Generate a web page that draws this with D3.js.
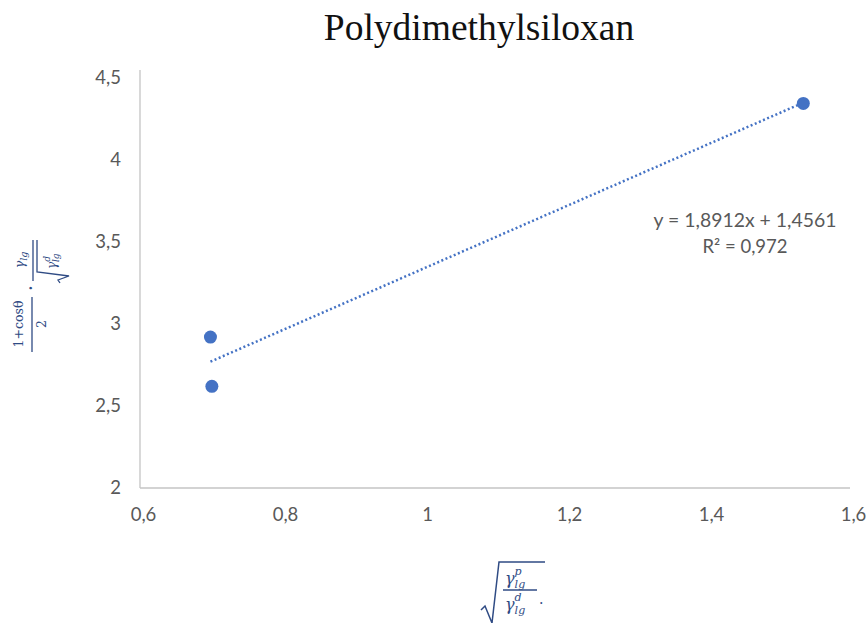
<!DOCTYPE html>
<meta charset="utf-8">
<html>
<head>
<script src="https://d3js.org/d3.v7.min.js"></script>
<style>
  body { margin: 0; background: #fff; }
</style>
</head>
<body>
<div id="chart"></div>
<script>

    // data
    var xValues = [0.695, 0.697, 1.530];
    var yValues = [2.92, 2.62, 4.345];
    var slope = 1.8912, intercept = 1.4561;
    var xTicks = [0.6, 0.8, 1, 1.2, 1.4, 1.6];
    var yTicks = [2, 2.5, 3, 3.5, 4, 4.5];
    var eqLines = ["y = 1,8912x + 1,4561", "R\u00b2 = 0,972"];

    var W = 866, H = 623;
    var margin = {top: 78, right: 13, bottom: 135, left: 143};
    var width = W - margin.left - margin.right,
        height = H - margin.top - margin.bottom;

    var svg = d3.select("#chart").append("svg")
        .attr("width", W).attr("height", H);

    var g = svg.append("g")
        .attr("transform", "translate(" + margin.left + "," + margin.top + ")");

    var x = d3.scaleLinear().domain([0.6, 1.6]).range([0, width]);
    var y = d3.scaleLinear().domain([2, 4.5]).range([height, 0]);

    var fmt = function(d) { return String(d).replace(".", ","); };

    // title
    svg.append("text")
        .attr("x", 479).attr("y", 40)
        .attr("text-anchor", "middle")
        .style("font-family", "Liberation Serif, Times New Roman, serif")
        .style("font-size", "37.5px")
        .style("fill", "#111")
        .text("Polydimethylsiloxan");

    // axes
    var xAxis = g.append("g")
        .attr("transform", "translate(0," + height + ")")
        .call(d3.axisBottom(x).tickValues(xTicks).tickFormat(fmt).tickSize(0).tickPadding(20));
    var yAxis = g.append("g")
        .call(d3.axisLeft(y).tickValues(yTicks).tickFormat(fmt).tickSize(0).tickPadding(22));

    [xAxis, yAxis].forEach(function(a) {
      a.select(".domain").attr("stroke", "#c4c4c4").attr("stroke-width", 1.3);
      a.selectAll("text")
        .style("font-family", "Lato, Open Sans, sans-serif")
        .style("font-size", "18.5px")
        .style("fill", "#595959");
    });
    xAxis.select(".domain").attr("d", "M-3,0H" + (width - 3));
    yAxis.select(".domain").attr("d", "M-3," + height + "V-8");

    // trendline
    var x0 = d3.min(xValues), x1 = d3.max(xValues);
    g.append("line")
        .attr("x1", x(x0)).attr("y1", y(slope * x0 + intercept))
        .attr("x2", x(x1)).attr("y2", y(slope * x1 + intercept))
        .attr("stroke", "#4472c4")
        .attr("stroke-width", 2.5)
        .attr("stroke-dasharray", "2,2.5");

    // points
    g.selectAll("circle")
        .data(xValues)
        .enter()
        .append("circle")
          .attr("cx", function(d) { return x(d); })
          .attr("cy", function(d, i) { return y(yValues[i]); })
          .attr("r", 6.5)
          .style("fill", "#4472c4");

    // equation
    svg.selectAll(".eq")
        .data(eqLines)
        .enter()
        .append("text")
          .attr("class", "eq")
          .attr("x", 745)
          .attr("y", function(d, i) { return 227 + i * 26; })
          .attr("text-anchor", "middle")
          .style("font-family", "Lato, Open Sans, sans-serif")
          .style("font-size", function(d, i) { return i === 0 ? "19.4px" : "18.5px"; })
          .style("fill", "#595959")
          .text(function(d) { return d; });

    var labelColor = "#2f4b84";
    var mathFont = "DejaVu Serif, Liberation Serif, serif";

    // y label (rotated formula)
    var yl = svg.append("g")
        .attr("transform", "translate(32,300) rotate(-90)")
        .style("font-family", mathFont)
        .style("fill", labelColor);
    yl.append("text").attr("x", -24).attr("y", -9).attr("text-anchor", "middle")
        .style("font-size", "12.5px").text("1+cos\u03b8");
    yl.append("line").attr("x1", -52).attr("x2", 3).attr("y1", 0).attr("y2", 0)
        .attr("stroke", labelColor).attr("stroke-width", 1.3);
    yl.append("text").attr("x", -24).attr("y", 14).attr("text-anchor", "middle")
        .style("font-size", "12.5px").text("2");
    yl.append("text").attr("x", 12).attr("y", 4).attr("text-anchor", "middle")
        .style("font-size", "14px").style("font-weight", "bold").text("\u00b7");
    var ynum = yl.append("text").attr("x", 40).attr("y", -8).attr("text-anchor", "middle")
        .style("font-size", "12.5px").style("font-style", "italic");
    ynum.append("tspan").text("\u03b3");
    ynum.append("tspan").attr("dy", 3).style("font-size", "9.5px").text("lg");
    yl.append("line").attr("x1", 19).attr("x2", 60).attr("y1", 1).attr("y2", 1)
        .attr("stroke", labelColor).attr("stroke-width", 1.3);
    yl.append("path").attr("d", "M17,28 L20,26 L24,37 L28,5 H60")
        .attr("fill", "none").attr("stroke", labelColor).attr("stroke-width", 1.3);
    var yden = yl.append("text").attr("x", 31).attr("y", 24)
        .style("font-size", "12px").style("font-style", "italic");
    yden.append("tspan").text("\u03b3");
    yden.append("tspan").attr("dy", -6).style("font-size", "9px").text("d");
    yden.append("tspan").attr("dx", -6).attr("dy", 9).style("font-size", "9px").text("lg");

    // x label (square-root formula)
    var xl = svg.append("g")
        .attr("transform", "translate(495,590)")
        .style("font-family", mathFont)
        .style("fill", labelColor);
    xl.append("path").attr("d", "M-14,20 L-10,16 L-3,33 L4,-28 H50")
        .attr("fill", "none").attr("stroke", labelColor).attr("stroke-width", 1.5);
    var xnum = xl.append("text").attr("x", 10).attr("y", -6)
        .style("font-size", "16px").style("font-style", "italic");
    xnum.append("tspan").text("\u03b3");
    xnum.append("tspan").attr("dy", -9).style("font-size", "11px").text("p");
    xnum.append("tspan").attr("dx", -7).attr("dy", 13).style("font-size", "11px").text("lg");
    xl.append("line").attr("x1", 8).attr("x2", 42).attr("y1", 0).attr("y2", 0)
        .attr("stroke", labelColor).attr("stroke-width", 1.3);
    var xden = xl.append("text").attr("x", 10).attr("y", 20)
        .style("font-size", "16px").style("font-style", "italic");
    xden.append("tspan").text("\u03b3");
    xden.append("tspan").attr("dy", -9).style("font-size", "11px").text("d");
    xden.append("tspan").attr("dx", -7).attr("dy", 13).style("font-size", "11px").text("lg");
    xl.append("text").attr("x", 44).attr("y", 14).style("font-size", "14px").text(".");

</script>
</body>
</html>
